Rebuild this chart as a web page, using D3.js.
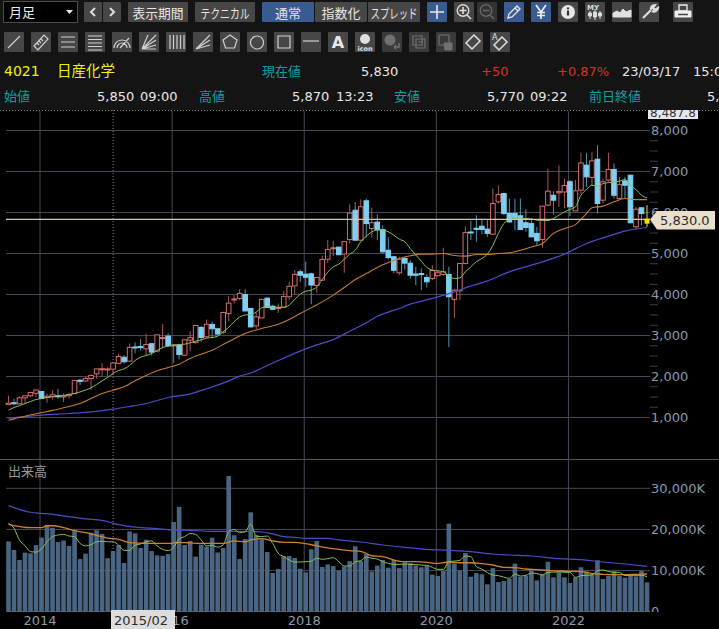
<!DOCTYPE html>
<html>
<head>
<meta charset="utf-8">
<script src="https://cdn.jsdelivr.net/npm/d3@7"></script>
<style>
  html, body { margin: 0; padding: 0; background: #000; overflow: hidden; }
  text { font-family: "DejaVu Sans", sans-serif; }
  .jp { font-family: "Noto Sans CJK JP", sans-serif; }
</style>
</head>
<body>
<div id="chart"></div>
<script>
// monthly bars, 2013/07 .. 2023/03
var opens = [
  1320, 1360, 1333, 1480, 1530, 1590, 1635, 1490, 1505, 1530,
  1500, 1530, 1585, 1910, 1890, 1950, 2065, 2175, 2170, 2180,
  2320, 2470, 2375, 2720, 2730, 2675, 2800, 2620, 2940, 2985,
  2760, 2765, 2520, 2885, 2830, 3195, 2970, 3270, 3165, 3080,
  3535, 3870, 3900, 4000, 3660, 3235, 3430, 3910, 3715, 3670,
  3690, 3945, 4210, 4555, 4495, 4505, 4220, 4350, 4860, 5120,
  5155, 4985, 5340, 6055, 5325, 6285, 5610, 5765, 5585, 5080,
  4920, 4530, 4880, 4765, 4500, 4510, 4415, 4390, 4460, 4490,
  4490, 3880, 4090, 4755, 5525, 5615, 5665, 5595, 5470, 6260,
  6465, 5975, 5975, 5920, 5750, 5730, 5490, 5340, 6180, 6420,
  6480, 6500, 6750, 6040, 6545, 7155, 6855, 7300, 6300, 6790,
  7050, 6340, 6770, 6910, 5650, 6115, 5850
];
var highs = [
  1537, 1460, 1520, 1540, 1630, 1685, 1640, 1585, 1665, 1700,
  1585, 1600, 1920, 1945, 1990, 2050, 2190, 2330, 2220, 2350,
  2560, 2520, 2805, 2830, 2910, 3050, 2820, 3030, 3280, 3050,
  2790, 2790, 2910, 3105, 3260, 3230, 3390, 3335, 3180, 3580,
  3960, 3985, 4130, 4130, 3670, 3550, 3900, 3940, 3750, 3780,
  4080, 4315, 4600, 4610, 4800, 4535, 4420, 4945, 5325, 5310,
  5170, 5300, 6200, 6250, 6320, 6340, 6115, 5960, 5690, 5390,
  4935, 4920, 4920, 4840, 4675, 4635, 4490, 4715, 4590, 5140,
  4675, 4140, 4770, 5665, 5795, 5935, 5850, 5815, 6585, 6665,
  6465, 6340, 6340, 6340, 6080, 5855, 5650, 6160, 7070, 6520,
  7155, 6830, 6790, 6790, 7455, 7455, 7480, 7640, 6830, 7455,
  7195, 6870, 6870, 6915, 6140, 6120, 6180
];
var lows = [
  1300, 1300, 1325, 1340, 1490, 1500, 1450, 1365, 1440, 1455,
  1380, 1465, 1570, 1790, 1870, 1680, 1950, 2010, 2010, 2060,
  2300, 2320, 2360, 2570, 2630, 2520, 2510, 2600, 2680, 2720,
  2330, 2420, 2500, 2620, 2800, 2845, 2950, 2930, 3020, 3040,
  3350, 3780, 3860, 3580, 3200, 3155, 3420, 3670, 3620, 3550,
  3670, 3860, 4000, 4300, 4190, 3765, 4040, 4335, 4770, 4935,
  4960, 4530, 5245, 5300, 5310, 5390, 5390, 5325, 5000, 4850,
  4510, 4470, 4610, 4390, 4230, 4105, 4170, 4350, 4430, 4455,
  2720, 3430, 3860, 4740, 5325, 5285, 5470, 5405, 5445, 6220,
  5935, 5750, 5570, 5570, 5530, 5405, 5200, 5145, 6155, 5950,
  6140, 6100, 5910, 6040, 6465, 6625, 6665, 5975, 6220, 6750,
  6340, 6340, 6340, 5735, 5585, 5690, 5650
];
var closes = [
  1350, 1340, 1480, 1530, 1610, 1670, 1465, 1520, 1555, 1510,
  1530, 1560, 1900, 1880, 1950, 2025, 2185, 2190, 2185, 2330,
  2490, 2360, 2710, 2700, 2710, 2780, 2595, 3015, 2950, 2750,
  2770, 2535, 2895, 2945, 3245, 2950, 3275, 3165, 3035, 3560,
  3790, 3890, 4025, 3600, 3210, 3455, 3880, 3680, 3640, 3680,
  3950, 4200, 4490, 4470, 4420, 4230, 4415, 4855, 5100, 5140,
  4970, 5290, 5985, 5325, 6140, 5730, 5750, 5585, 5040, 4900,
  4590, 4860, 4765, 4470, 4470, 4490, 4310, 4585, 4530, 4555,
  3945, 4105, 4755, 5510, 5510, 5600, 5585, 5490, 6220, 6440,
  5975, 5770, 5880, 5585, 5635, 5405, 5310, 6155, 6520, 6300,
  6510, 6660, 6140, 6530, 7210, 6870, 7260, 6220, 6750, 7050,
  6420, 6680, 6665, 5750, 6080, 5975, 5830
];
var volumes = [
  17100, 15000, 12570, 14350, 14200, 16200, 18000, 21100, 20400, 16950,
  17300, 16000, 19900, 12800, 14100, 19200, 19800, 18900, 13000, 14750,
  16200, 11850, 19500, 19050, 15500, 17500, 14750, 13700, 13600, 14000,
  21800, 25500, 16200, 17200, 13400, 16300, 15800, 18000, 14400, 15500,
  33000, 18600, 12800, 17700, 24150, 18600, 17600, 14500, 9400, 10400,
  13550, 13550, 13050, 10460, 9570, 15170, 17200, 10870, 11500, 11100,
  9980, 10950, 12300, 15900, 12300, 13950, 9800, 11200, 12570, 10700,
  12570, 10600, 12000, 11800, 11200, 10800, 11100, 9000, 8700, 9900,
  21400, 11750, 9980, 14270, 8500, 9400, 9080, 6650, 10600, 7200,
  7450, 7950, 11700, 8500, 8750, 10050, 7600, 9080, 12150, 8350,
  9500, 8350, 6970, 8350, 10800, 9800, 9080, 12500, 7950, 8750,
  9800, 8750, 8270, 8750, 8600, 9900, 7150
];

// moving averages of the price
var priceMaShort = [
  1180, 1244, 1290, 1341, 1390, 1439, 1463, 1490, 1512, 1525,
  1537, 1560, 1585, 1625, 1667, 1724, 1805, 1894, 1976, 2073,
  2146, 2187, 2268, 2390, 2470, 2512, 2560, 2634, 2707, 2740,
  2764, 2780, 2789, 2821, 2862, 2894, 2935, 2951, 2984, 3090,
  3200, 3340, 3450, 3500, 3510, 3570, 3675, 3700, 3690, 3690,
  3690, 3740, 3880, 4008, 4080, 4105, 4187, 4365, 4545, 4675,
  4740, 4860, 4985, 5080, 5285, 5420, 5530, 5570, 5570, 5530,
  5445, 5350, 5285, 5120, 4960, 4813, 4660, 4595, 4577, 4553,
  4455, 4390, 4405, 4553, 4675, 4800, 4880, 4985, 5200, 5490,
  5730, 5830, 5855, 5855, 5855, 5840, 5815, 5805, 5805, 5855,
  5935, 6015, 6075, 6140, 6420, 6560, 6665, 6640, 6705, 6730,
  6740, 6765, 6805, 6665, 6560, 6420, 6360
];
var priceMaMid = [
  [0, 935], [1, 967], [3, 1032], [5, 1090], [7, 1146], [9, 1203], [11, 1268], [13, 1341],
  [15, 1463], [17, 1585], [19, 1667], [21, 1748], [23, 1894], [25, 2024], [27, 2138],
  [29, 2220], [31, 2300], [33, 2440], [35, 2545], [37, 2642], [39, 2780], [41, 2920],
  [43, 3050], [46, 3170], [49, 3275], [51, 3390], [53, 3535], [55, 3680], [57, 3820],
  [59, 3985], [61, 4170], [63, 4365], [65, 4510], [67, 4660], [69, 4780], [71, 4880],
  [73, 4945], [75, 4985], [77, 4985], [79, 5000], [81, 4950], [83, 4935], [85, 4975],
  [87, 4975], [89, 5000], [91, 5015], [93, 5080], [95, 5160], [97, 5245], [99, 5490],
  [101, 5610], [103, 5705], [105, 5975], [106, 6115], [108, 6155], [110, 6260],
  [112, 6340], [114, 6315], [116, 6315]
];
var priceMaLong = [
  [0, 980], [6, 1057], [11, 1098], [15, 1138], [19, 1203], [22, 1268], [25, 1341],
  [29, 1488], [33, 1577], [36, 1700], [40, 1894], [42, 2008], [44, 2085], [48, 2330],
  [53, 2620], [56, 2770], [59, 2900], [62, 3105], [65, 3310], [67, 3470], [69, 3570],
  [71, 3660], [73, 3765], [75, 3837], [78, 3943], [81, 4065], [83, 4163], [87, 4333],
  [91, 4553], [95, 4715], [97, 4797], [101, 4985], [105, 5245], [109, 5423], [112, 5545],
  [116, 5634]
];

// moving averages of the volume
var volMaShort = [
  21500, 20300, 17400, 16050, 14600, 14500, 15250, 17000, 18250, 18650,
  18800, 18400, 18250, 16600, 16000, 16300, 17000, 17100, 17000, 17000,
  16200, 14900, 14900, 16200, 16450, 17000, 17200, 16000, 15150, 14850,
  15650, 17700, 18250, 19000, 18800, 17450, 16000, 16150, 15700, 16200,
  19450, 20000, 19200, 19450, 21300, 18400, 18250, 18400, 16600, 14200,
  13400, 12570, 12080, 12080, 12160, 12300, 13000, 12730, 12900, 13140,
  12160, 11100, 11100, 12160, 12400, 13300, 12980, 12800, 12160, 11760,
  11500, 11500, 11600, 11500, 11430, 11350, 11270, 10790, 10300, 10300,
  12160, 12300, 12500, 13540, 13380, 10950, 10380, 9490, 8920, 8760,
  8400, 8100, 9160, 8680, 8840, 9400, 9250, 8920, 9570, 9600,
  9650, 9600, 9570, 8350, 8760, 8850, 8920, 9980, 10140, 9800,
  9570, 9570, 8760, 8840, 8840, 8840, 8520
];
var volMaMid = [
  [0, 21250], [4, 20440], [6, 20440], [7, 20900], [8, 20900], [10, 20440], [12, 19700],
  [14, 19200], [16, 18570], [18, 17900], [20, 17600], [22, 16800], [25, 16600], [29, 16600],
  [31, 16870], [35, 16600], [39, 16600], [41, 17200], [43, 17000], [44, 17440], [46, 17760],
  [48, 17200], [50, 16870], [52, 16870], [54, 16540], [56, 16000], [58, 15500], [60, 15170],
  [62, 14840], [64, 14680], [66, 13600], [68, 13380], [70, 12570], [72, 12160], [74, 12160],
  [76, 12000], [78, 11760], [80, 12080], [82, 11900], [84, 11900], [86, 11680], [88, 11350],
  [90, 10790], [92, 10700], [94, 10380], [96, 10220], [98, 10050], [100, 9890], [102, 9810],
  [104, 9730], [106, 9250], [108, 9080], [110, 9000], [112, 9000], [114, 9080], [116, 9160]
];
var volMaLong = [
  [0, 25800], [4, 24170], [6, 23920], [8, 23680], [11, 23110], [14, 22550], [17, 22220],
  [19, 21490], [21, 20920], [24, 20440], [27, 20190], [29, 19950], [33, 19790], [37, 19550],
  [41, 19550], [44, 19500], [46, 19380], [48, 18900], [50, 18250], [52, 18080], [54, 17840],
  [58, 17840], [60, 17440], [64, 16950], [68, 16220], [72, 15650], [76, 15170], [80, 14920],
  [84, 14600], [88, 14030], [91, 13790], [95, 13540], [100, 12890], [104, 12650], [108, 12080],
  [112, 11600], [116, 11030]
];

var priceTicks = [1000, 2000, 3000, 4000, 5000, 6000, 7000, 8000];
var priceMinorTicks = [1250, 1500, 1750, 2250, 2500, 2750, 3250, 3500, 3750, 4250, 4500, 4750,
  5250, 5500, 5750, 6250, 6500, 6750, 7250, 7500, 7750];
var volumeTicks = [0, 10000, 20000, 30000];
var yearIndexes = [6, 30, 54, 78, 102];
var yearLabels = ["2014", "2016", "2018", "2020", "2022"];

var topButtons = ["表示期間", "テクニカル", "通常", "指数化", "スプレッド"];

var svg = d3.select("#chart").append("svg")
  .attr("width", 719)
  .attr("height", 629)
  .style("display", "block");

svg.append("rect").attr("width", 719).attr("height", 110).attr("fill", "#141414");
svg.append("rect").attr("y", 110).attr("width", 719).attr("height", 519).attr("fill", "#000");

var defs = svg.append("defs");
defs.append("clipPath").attr("id", "clip-top")
  .append("rect").attr("x", 0).attr("y", 110).attr("width", 719).attr("height", 519);
defs.append("clipPath").attr("id", "clip-vol")
  .append("rect").attr("x", 0).attr("y", 460).attr("width", 719).attr("height", 152);

var x = d3.scaleLinear().domain([0, 116]).range([8.5, 647]);
var yPrice = d3.scaleLinear().domain([1000, 8000]).range([417.5, 130.5]);
var yVol = d3.scaleLinear().domain([0, 30000]).range([611.7, 488.3]);

var gridColor = "#474955";
var axisColor = "#8b9aa8";

/* ---------- toolbar ---------- */
function button(px, py, w, h, fill) {
  var g = svg.append("g").attr("transform", "translate(" + px + "," + py + ")");
  g.append("rect").attr("width", w).attr("height", h).attr("rx", 1).attr("fill", fill || "#474747");
  return g;
}
function glyph(g, d, color, width, fill) {
  g.append("path").attr("d", d)
    .attr("fill", fill || "none")
    .attr("stroke", color || "#d8d8d8")
    .attr("stroke-width", width || 1.3);
}

svg.append("rect").attr("x", 3.5).attr("y", 1.5).attr("width", 74).attr("height", 21)
  .attr("fill", "#000").attr("stroke", "#4a4a4a");
svg.append("text").attr("class", "jp").attr("x", 9).attr("y", 17)
  .attr("font-size", 13).attr("fill", "#eee").text("月足");
svg.append("path").attr("d", "M66,10 h7 l-3.5,4 z").attr("fill", "#eee");

glyph(button(84, 2, 18, 20), "M11,6 l-4,4 l4,4", "#ddd", 2);
glyph(button(103, 2, 18, 20), "M7,6 l4,4 l-4,4", "#ddd", 2);

// label widths are squeezed to what the buttons hold
var topX = [128, 195, 262, 315, 368];
var topW = [60, 60, 52, 52, 52];
var topTextW = [51, 49, 26, 39, 47];
topButtons.forEach(function (s, i) {
  var g = button(topX[i], 2, topW[i], 20, i === 2 ? "#3a5a92" : "#474747");
  g.append("text").attr("class", "jp")
    .attr("x", topW[i] / 2).attr("y", 15.5)
    .attr("text-anchor", "middle")
    .attr("font-size", 13)
    .attr("textLength", topTextW[i])
    .attr("lengthAdjust", "spacingAndGlyphs")
    .attr("fill", "#e6e6e6")
    .text(s);
});

var b;
b = button(427, 2, 20, 20, "#3a5a92");
glyph(b, "M10,3 v14 M3,10 h14", "#e8e8e8", 1.6);
b = button(454, 2, 20, 20);
glyph(b, "M13,13 l4,4 M9,5 v7 M5.5,8.5 h7", "#ddd", 1.6);
b.append("circle").attr("cx", 9).attr("cy", 8.5).attr("r", 5.8).attr("fill", "none").attr("stroke", "#ddd").attr("stroke-width", 1.4);
b = button(477, 2, 20, 20, "#333");
glyph(b, "M13,13 l4,4 M5.5,8.5 h7", "#666", 1.6);
b.append("circle").attr("cx", 9).attr("cy", 8.5).attr("r", 5.8).attr("fill", "none").attr("stroke", "#666").attr("stroke-width", 1.4);
b = button(504, 2, 20, 20, "#3a5a92");
glyph(b, "M4,16 l1,-4 l8,-8 l3,3 l-8,8 z M11,6 l3,3", "#e8e8e8", 1.3);
b = button(531, 2, 20, 20, "#3a5a92");
glyph(b, "M5,3 l5,7 l5,-7 M10,10 v7 M6,10.5 h8 M6,13.5 h8", "#eee", 1.7);
b = button(558, 2, 20, 20);
b.append("circle").attr("cx", 10).attr("cy", 10).attr("r", 7).attr("fill", "#e6e6e6");
glyph(b, "M10,8.5 v5 M10,5.5 v1.8", "#333", 2.2);
b = button(585, 2, 20, 20);
b.append("text").attr("x", 2).attr("y", 7.5).attr("font-size", 7).attr("font-weight", "bold").attr("fill", "#ddd").text("MY");
glyph(b, "M5,9 v8 M10,7 v11 M15,9 v8", "#ddd", 1);
glyph(b, "M3.5,11 h3 v3 h-3 z M8.5,10 h3 v5 h-3 z M13.5,11 h3 v3 h-3 z", "#ddd", 1, "#ddd");
b = button(612, 2, 20, 20);
glyph(b, "M1,15 L1,11 L5,9 L8,11 L11,7 L14,10 L19,8 L19,15 Z", "#e0e0e0", 1, "#e0e0e0");
b = button(639, 2, 20, 20);
glyph(b, "M4,16 l8,-8 M12,8 a4,4 0 0 1 4,-5 l-2,3 l2,2 l3,-2 a4,4 0 0 1 -6,3", "#ddd", 2.2);
b = button(673, 2, 20, 20);
glyph(b, "M6,3 h8 v6 h-8 z", "#eee", 1.3);
glyph(b, "M2,9 h16 v6 h-16 z", "#eee", 1, "#eee");
glyph(b, "M5,12.5 h10", "#444", 1.5);

// drawing tools, second row
var toolGlyphs = [
  "M4,16 L16,4",
  "M3,14 L13,3 L17,7 L7,18 Z M6,11 l2,2 M8,9 l2,2 M10,7 l2,2",
  "M3,5 h14 M3,10 h14 M3,15 h14",
  "M3,4 h14 M3,7.5 h14 M3,11 h14 M3,14.5 h14 M3,18 h14",
  "M2,16 a8,8 0 0 1 16,0 M5,16 a5,5 0 0 1 10,0 M8,16 L17,6",
  "M3,17 L17,3 M3,17 L17,8 M3,17 L17,13 M3,17 L9,3 M3,17 h14",
  "M4,3 v14 M7.5,3 v14 M11,3 v14 M14.5,3 v14 M18,3 v14",
  "M3,17 L17,3 M3,17 L17,8 M3,17 L17,13",
  "M10,3 L17,8 L14.5,16 L5.5,16 L3,8 Z",
  "M10,4 a6.5,6.5 0 1 0 0.01,0",
  "M4,4 h12 v12 h-12 z",
  "M2,9 h16"
];
toolGlyphs.forEach(function (d, i) {
  glyph(button(4 + i * 27, 32, 20, 20), d, "#d0d0d0", 1.2);
});
b = button(328, 32, 20, 20);
b.append("text").attr("x", 10).attr("y", 16).attr("text-anchor", "middle")
  .attr("font-size", 16).attr("font-weight", "bold").attr("fill", "#e8e8e8").text("A");
b = button(355, 32, 20, 20);
b.append("circle").attr("cx", 10).attr("cy", 7).attr("r", 5).attr("fill", "#e0e0e0");
b.append("text").attr("x", 10).attr("y", 18.5).attr("text-anchor", "middle")
  .attr("font-size", 6.5).attr("font-weight", "bold").attr("fill", "#e0e0e0").text("icon");
b = button(382, 32, 20, 20, "#3a3a3a");
b.append("circle").attr("cx", 8).attr("cy", 8).attr("r", 5.5).attr("fill", "#707070");
glyph(b, "M12,15 h5 v-4 M12,15 l2,-2 M12,15 l2,2", "#707070", 1.5);
b = button(409, 32, 20, 20, "#3a3a3a");
glyph(b, "M4,4 h9 v9 h-9 z M7,7 h9 v9 h-9 z M9,10 h5 M9,13 h5", "#707070", 1.2);
b = button(436, 32, 20, 20, "#3a3a3a");
glyph(b, "M3,3 h10 v8 M3,3 v10 h5", "#707070", 1.2);
glyph(b, "M9,18 L8,11 h8 v7 z", "#707070", 1, "#707070");
b = button(463, 32, 20, 20);
glyph(b, "M3,11 L11,3 L17,9 L9,17 Z", "#e0e0e0", 1.5);
b = button(490, 32, 20, 20);
glyph(b, "M4,13 L12,5 L17,10 L9,18 Z", "#e0e0e0", 1.5);
b.append("text").attr("x", 2).attr("y", 8).attr("font-size", 8).attr("fill", "#e0e0e0").text("A");

/* ---------- quote rows ---------- */
function info(px, py, s, color, cls, size) {
  svg.append("text").attr("class", cls || null)
    .attr("x", px).attr("y", py)
    .attr("font-size", size || 13)
    .attr("fill", color)
    .text(s);
}
var teal = "#08a0a0";
info(4, 76, "4021", "#f2f200", null, 14);
info(57, 76, "日産化学", "#f2f200", "jp", 14.5);
info(262, 76, "現在値", teal, "jp", 13);
info(361, 76, "5,830", "#e8e8e8");
info(481, 76, "+50", "#d83030");
info(557, 76, "+0.87%", "#d83030");
info(622, 76, "23/03/17", "#e8e8e8");
info(693, 76, "15:0", "#e8e8e8");
info(4, 101, "始値", teal, "jp", 13);
info(97, 101, "5,850", "#e8e8e8");
info(140, 101, "09:00", "#e8e8e8");
info(199, 101, "高値", teal, "jp", 13);
info(292, 101, "5,870", "#e8e8e8");
info(336, 101, "13:23", "#e8e8e8");
info(394, 101, "安値", teal, "jp", 13);
info(487, 101, "5,770", "#e8e8e8");
info(530, 101, "09:22", "#e8e8e8");
info(589, 101, "前日終値", teal, "jp", 13);
info(707, 101, "5,", "#e8e8e8");

svg.append("line").attr("x1", 0).attr("x2", 719).attr("y1", 110.5).attr("y2", 110.5)
  .attr("stroke", "#888").attr("stroke-dasharray", "1,2");

/* ---------- grid ---------- */
var plot = svg.append("g").attr("clip-path", "url(#clip-top)");

plot.append("g").selectAll("line")
  .data(priceTicks)
  .enter().append("line")
  .attr("x1", 6).attr("x2", 650)
  .attr("y1", function (d) { return yPrice(d); })
  .attr("y2", function (d) { return yPrice(d); })
  .attr("stroke", gridColor);

plot.append("g").selectAll("line")
  .data(priceMinorTicks)
  .enter().append("line")
  .attr("x1", 650).attr("x2", 658)
  .attr("y1", function (d) { return yPrice(d); })
  .attr("y2", function (d) { return yPrice(d); })
  .attr("stroke", "#3c3e48");

plot.append("g").selectAll("line")
  .data(volumeTicks.slice(1))
  .enter().append("line")
  .attr("x1", 6).attr("x2", 650)
  .attr("y1", function (d) { return yVol(d); })
  .attr("y2", function (d) { return yVol(d); })
  .attr("stroke", gridColor);

plot.append("line").attr("x1", 0).attr("x2", 719).attr("y1", 459.5).attr("y2", 459.5).attr("stroke", "#555");
plot.append("line").attr("x1", 6).attr("x2", 650).attr("y1", 611.5).attr("y2", 611.5).attr("stroke", "#555");

// year grid lines sit 2px left of the bar centre
var xAxis = d3.axisBottom(x)
  .tickValues(yearIndexes)
  .tickFormat(function (d, i) { return yearLabels[i]; })
  .tickSizeInner(-501)
  .tickSizeOuter(0)
  .tickPadding(4);
var xg = plot.append("g").attr("transform", "translate(-2,612)").call(xAxis);
xg.select(".domain").remove();
xg.selectAll("line").attr("stroke", gridColor);
xg.selectAll("text").attr("fill", axisColor).attr("font-size", 13);

plot.append("line")
  .attr("x1", x(19)).attr("x2", x(19))
  .attr("y1", 110).attr("y2", 612)
  .attr("stroke", "#8a8a8a").attr("stroke-dasharray", "1,2");

/* ---------- volume ---------- */
var volG = plot.append("g").attr("clip-path", "url(#clip-vol)");
volG.append("g").selectAll("rect")
  .data(volumes)
  .enter().append("rect")
  .attr("x", function (d, i) { return x(i) - 2.3; })
  .attr("width", 4.6)
  .attr("y", function (d) { return yVol(d); })
  .attr("height", function (d) { return yVol(0) - yVol(d); })
  .attr("fill", "#4f6b8a")
  .attr("fill-opacity", 0.94);

function pairLine(scale) {
  return d3.line()
    .x(function (d) { return x(d[0]); })
    .y(function (d) { return scale(d[1]); })
    .curve(d3.curveMonotoneX);
}
function indexed(values) {
  return values.map(function (v, i) { return [i, v]; });
}
function maPath(parent, data, scale, color, width) {
  parent.append("path")
    .datum(data)
    .attr("d", pairLine(scale))
    .attr("fill", "none")
    .attr("stroke", color)
    .attr("stroke-width", width);
}
maPath(volG, volMaLong, yVol, "#4c4cc8", 1.2);
maPath(volG, volMaMid, yVol, "#d08030", 1.3);
maPath(volG, indexed(volMaShort), yVol, "#8cc050", 1);

/* ---------- candles ---------- */
var upColor = "#d86c6c";
var upWick = "#a85858";
var downColor = "#7ed0f2";
var downWick = "#4f93b0";
var bars = d3.range(opens.length - 1);

var candles = plot.append("g").selectAll("g")
  .data(bars)
  .enter().append("g");

candles.append("line")
  .attr("x1", function (i) { return x(i); })
  .attr("x2", function (i) { return x(i); })
  .attr("y1", function (i) { return yPrice(highs[i]); })
  .attr("y2", function (i) { return yPrice(lows[i]); })
  .attr("stroke", function (i) { return closes[i] >= opens[i] ? upWick : downWick; });

candles.append("rect")
  .attr("x", function (i) { return x(i) - 2.3; })
  .attr("width", 4.6)
  .attr("y", function (i) { return yPrice(Math.max(opens[i], closes[i])); })
  .attr("height", function (i) { return Math.max(1, Math.abs(yPrice(opens[i]) - yPrice(closes[i]))); })
  .attr("fill", function (i) { return closes[i] >= opens[i] ? "#000" : downColor; })
  .attr("stroke", function (i) { return closes[i] >= opens[i] ? upColor : downColor; })
  .attr("stroke-width", 1);

maPath(plot, priceMaLong, yPrice, "#4c4cc8", 1.2);
maPath(plot, priceMaMid, yPrice, "#c87c30", 1.1);
maPath(plot, indexed(priceMaShort), yPrice, "#8cc050", 1);

/* ---------- last price ---------- */
var last = opens.length - 1;
plot.append("line")
  .attr("x1", 6).attr("x2", 650)
  .attr("y1", yPrice(closes[last])).attr("y2", yPrice(closes[last]))
  .attr("stroke", "#cfc8b0").attr("stroke-width", 1.2);

plot.append("line")
  .attr("x1", x(last)).attr("x2", x(last))
  .attr("y1", yPrice(highs[last])).attr("y2", yPrice(lows[last]))
  .attr("stroke", "#f0e000");
plot.append("rect")
  .attr("x", x(last) - 2.5).attr("width", 5)
  .attr("y", yPrice(opens[last])).attr("height", 5)
  .attr("fill", "#f0e000");

/* ---------- axes ---------- */
var priceAxis = d3.axisRight(yPrice)
  .tickValues(priceTicks)
  .tickFormat(d3.format(","))
  .tickSize(0)
  .tickPadding(1);
var pg = plot.append("g").attr("transform", "translate(650,0)").call(priceAxis);
pg.select(".domain").remove();
pg.selectAll("text").attr("fill", axisColor).attr("font-size", 13);

var volAxis = d3.axisRight(yVol)
  .tickValues(volumeTicks)
  .tickFormat(function (d) { return d === 0 ? "0" : d3.format(",")(d) + "K"; })
  .tickSize(0)
  .tickPadding(1);
var vg = volG.append("g").attr("transform", "translate(650,0)").call(volAxis);
vg.select(".domain").remove();
vg.selectAll("text").attr("fill", axisColor).attr("font-size", 13);

plot.append("text").attr("class", "jp").attr("x", 8).attr("y", 476)
  .attr("font-size", 13).attr("fill", "#999").text("出来高");

/* ---------- tags ---------- */
plot.append("polygon")
  .attr("points", [[650, yPrice(closes[last])], [657, 211], [715, 211], [715, 229.5], [657, 229.5]].join(" "))
  .attr("fill", "#e9dfcb");
plot.append("text").attr("x", 660).attr("y", 225)
  .attr("font-size", 13).attr("fill", "#2b2b2b").text("5,830.0");

plot.append("rect").attr("x", 648).attr("y", 105).attr("width", 50).attr("height", 14).attr("fill", "#e6e6ee");
plot.append("text").attr("x", 650).attr("y", 117)
  .attr("font-size", 12).attr("fill", "#333").text("8,487.8");

plot.append("rect").attr("x", 111).attr("y", 610).attr("width", 64).attr("height", 19).attr("fill", "#dcdcdc");
plot.append("text").attr("x", 114).attr("y", 625)
  .attr("font-size", 13).attr("fill", "#2c2c2c").text("2015/02");
</script>
</body>
</html>
